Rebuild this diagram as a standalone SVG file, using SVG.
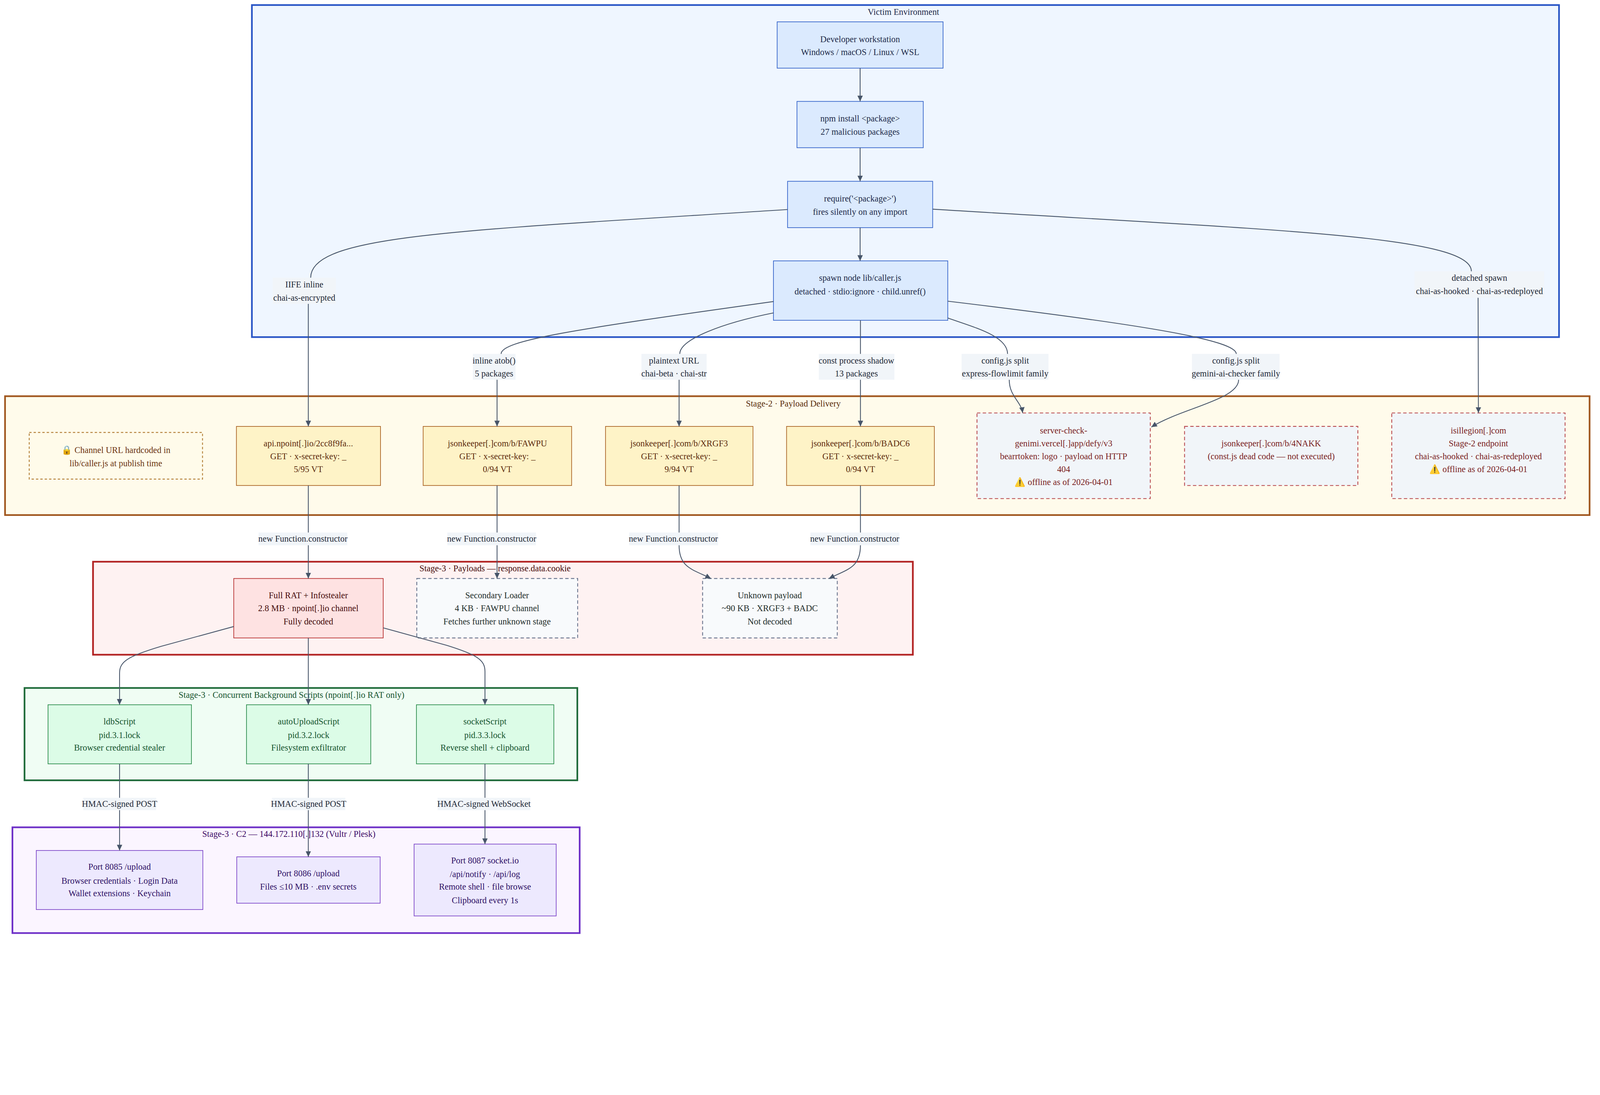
<svg xmlns="http://www.w3.org/2000/svg" width="4764" height="2804" viewBox="0 0 4764 2804" preserveAspectRatio="xMinYMin meet">
<defs>
<style>
svg:root{width:100vw;height:100vh}
text{font-family:"Liberation Serif","Times New Roman",serif;font-size:26px;text-anchor:middle;dominant-baseline:central}
.cl{stroke-width:5}
.victimC{fill:#eff6ff;stroke:#2a56c6}
.stage2C{fill:#fffbeb;stroke:#a0561e}
.stage3C{fill:#fef2f2;stroke:#b22222}
.bgC{fill:#f0fdf4;stroke:#1f6b3a}
.c2C{fill:#fbf5ff;stroke:#6d2fc7}
.vn{fill:#dbeafe;stroke:#3060c8;stroke-width:2}
.vt{fill:#1e2a4a}
.yn{fill:#fef3c7;stroke:#a86020;stroke-width:2}
.yt{fill:#5c2a0c}
.off{fill:#f1f5f9;stroke:#b8484e;stroke-width:2.5;stroke-dasharray:10 7}
.ot{fill:#7a1f1f}
.note{fill:#fffbea;stroke:#b07a30;stroke-width:2.5;stroke-dasharray:7 6}
.nt{fill:#6b3410}
.rn{fill:#fee2e2;stroke:#b52a2a;stroke-width:2}
.rt{fill:#450a0a}
.un{fill:#f8fafc;stroke:#64708a;stroke-width:2.5;stroke-dasharray:10 7}
.ut{fill:#1e2d2a}
.gn{fill:#dcfce7;stroke:#2a8a4a;stroke-width:2}
.gt{fill:#14532d}
.pn{fill:#ede9fe;stroke:#7c45c8;stroke-width:2}
.pt{fill:#2e1065}
.edge{fill:none;stroke:#475569;stroke-width:2.5}
.lb{fill:#f1f5f9}
.lt{fill:#1f2937}
</style>
<marker id="arr" markerUnits="userSpaceOnUse" markerWidth="18" markerHeight="18" refX="17" refY="8" orient="auto">
<path d="M0,0 L17,8 L0,16 z" fill="#475569"/>
</marker>
</defs>
<rect width="4764" height="2804" fill="#ffffff"/>

<g id="cluster-victim">
<rect class="cl victimC" x="750" y="15" width="3892" height="989"/>
<text x="2690" y="36" class="vt">Victim Environment</text>
</g>
<g id="cluster-stage2">
<rect class="cl stage2C" x="15" y="1180" width="4718" height="354"/>
<text x="2362" y="1202" fill="#5a2d0c">Stage-2 · Payload Delivery</text>
</g>
<g id="cluster-stage3">
<rect class="cl stage3C" x="277" y="1673" width="2441" height="277"/>
<text x="1474" y="1693" fill="#450a0a">Stage-3 · Payloads — response.data.cookie</text>
</g>
<g id="cluster-bg">
<rect class="cl bgC" x="73" y="2049" width="1646" height="275"/>
<text x="868" y="2070" fill="#14532d">Stage-3 · Concurrent Background Scripts (npoint[.]io RAT only)</text>
</g>
<g id="cluster-c2">
<rect class="cl c2C" x="37" y="2464" width="1689" height="315"/>
<text x="860" y="2484" fill="#3b0764">Stage-3 · C2 — 144.172.110[.]132 (Vultr / Plesk)</text>
</g>

<g id="node-dev">
<rect class="vn" x="2314" y="65" width="494" height="138"/>
<text x="2561" y="117" class="vt">Developer workstation</text>
<text x="2561" y="155" class="vt">Windows / macOS / Linux / WSL</text>
</g>
<g id="node-npm">
<rect class="vn" x="2373" y="302" width="376" height="138"/>
<text x="2561" y="353" class="vt">npm install &lt;package&gt;</text>
<text x="2561" y="393" class="vt">27 malicious packages</text>
</g>
<g id="node-require">
<rect class="vn" x="2345" y="540" width="432" height="138"/>
<text x="2561" y="591" class="vt">require('&lt;package&gt;')</text>
<text x="2561" y="631" class="vt">fires silently on any import</text>
</g>
<g id="node-spawn">
<rect class="vn" x="2303" y="777" width="519" height="177"/>
<text x="2561" y="828" class="vt">spawn node lib/caller.js</text>
<text x="2561" y="868" class="vt">detached · stdio:ignore · child.unref()</text>
</g>

<g id="node-note">
<rect class="note" x="87" y="1288" width="516" height="139"/>
<text x="345" y="1341" class="nt">🔒 Channel URL hardcoded in</text>
<text x="345" y="1380" class="nt">lib/caller.js at publish time</text>
</g>
<g id="node-npoint">
<rect class="yn" x="704" y="1270" width="429" height="176"/>
<text x="918" y="1321" class="yt">api.npoint[.]io/2cc8f9fa...</text>
<text x="918" y="1359" class="yt">GET · x-secret-key: _</text>
<text x="918" y="1397" class="yt">5/95 VT</text>
</g>
<g id="node-fawpu">
<rect class="yn" x="1260" y="1270" width="442" height="176"/>
<text x="1481" y="1321" class="yt">jsonkeeper[.]com/b/FAWPU</text>
<text x="1481" y="1359" class="yt">GET · x-secret-key: _</text>
<text x="1481" y="1397" class="yt">0/94 VT</text>
</g>
<g id="node-xrgf3">
<rect class="yn" x="1803" y="1270" width="439" height="176"/>
<text x="2022" y="1321" class="yt">jsonkeeper[.]com/b/XRGF3</text>
<text x="2022" y="1359" class="yt">GET · x-secret-key: _</text>
<text x="2022" y="1397" class="yt">9/94 VT</text>
</g>
<g id="node-badc6">
<rect class="yn" x="2342" y="1270" width="440" height="176"/>
<text x="2562" y="1321" class="yt">jsonkeeper[.]com/b/BADC6</text>
<text x="2562" y="1359" class="yt">GET · x-secret-key: _</text>
<text x="2562" y="1397" class="yt">0/94 VT</text>
</g>
<g id="node-servercheck">
<rect class="off" x="2909" y="1230" width="516" height="255"/>
<text x="3167" y="1282" class="ot">server-check-</text>
<text x="3167" y="1321" class="ot">genimi.vercel[.]app/defy/v3</text>
<text x="3167" y="1359" class="ot">bearrtoken: logo · payload on HTTP</text>
<text x="3167" y="1397" class="ot">404</text>
<text x="3167" y="1436" class="ot">⚠️ offline as of 2026-04-01</text>
</g>
<g id="node-4nakk">
<rect class="off" x="3527" y="1270" width="516" height="176"/>
<text x="3785" y="1321" class="ot">jsonkeeper[.]com/b/4NAKK</text>
<text x="3785" y="1359" class="ot">(const.js dead code — not executed)</text>
</g>
<g id="node-isillegion">
<rect class="off" x="4144" y="1230" width="516" height="255"/>
<text x="4402" y="1282" class="ot">isillegion[.]com</text>
<text x="4402" y="1321" class="ot">Stage-2 endpoint</text>
<text x="4402" y="1359" class="ot">chai-as-hooked · chai-as-redeployed</text>
<text x="4402" y="1397" class="ot">⚠️ offline as of 2026-04-01</text>
</g>

<g id="node-rat">
<rect class="rn" x="696" y="1723" width="445" height="177"/>
<text x="918" y="1773" class="rt">Full RAT + Infostealer</text>
<text x="918" y="1812" class="rt">2.8 MB · npoint[.]io channel</text>
<text x="918" y="1851" class="rt">Fully decoded</text>
</g>
<g id="node-loader">
<rect class="un" x="1241" y="1723" width="479" height="177"/>
<text x="1480" y="1773" class="ut">Secondary Loader</text>
<text x="1480" y="1812" class="ut">4 KB · FAWPU channel</text>
<text x="1480" y="1851" class="ut">Fetches further unknown stage</text>
</g>
<g id="node-unknown">
<rect class="un" x="2092" y="1723" width="401" height="177"/>
<text x="2292" y="1773" class="ut">Unknown payload</text>
<text x="2292" y="1812" class="ut">~90 KB · XRGF3 + BADC</text>
<text x="2292" y="1851" class="ut">Not decoded</text>
</g>

<g id="node-ldb">
<rect class="gn" x="143" y="2099" width="427" height="176"/>
<text x="356" y="2149" class="gt">ldbScript</text>
<text x="356" y="2189" class="gt">pid.3.1.lock</text>
<text x="356" y="2227" class="gt">Browser credential stealer</text>
</g>
<g id="node-autoupload">
<rect class="gn" x="734" y="2099" width="370" height="176"/>
<text x="919" y="2149" class="gt">autoUploadScript</text>
<text x="919" y="2189" class="gt">pid.3.2.lock</text>
<text x="919" y="2227" class="gt">Filesystem exfiltrator</text>
</g>
<g id="node-socket">
<rect class="gn" x="1240" y="2099" width="409" height="176"/>
<text x="1444" y="2149" class="gt">socketScript</text>
<text x="1444" y="2189" class="gt">pid.3.3.lock</text>
<text x="1444" y="2227" class="gt">Reverse shell + clipboard</text>
</g>

<g id="node-p8085">
<rect class="pn" x="108" y="2533" width="496" height="176"/>
<text x="356" y="2582" class="pt">Port 8085 /upload</text>
<text x="356" y="2623" class="pt">Browser credentials · Login Data</text>
<text x="356" y="2660" class="pt">Wallet extensions · Keychain</text>
</g>
<g id="node-p8086">
<rect class="pn" x="705" y="2552" width="427" height="138"/>
<text x="918" y="2601" class="pt">Port 8086 /upload</text>
<text x="918" y="2641" class="pt">Files ≤10 MB · .env secrets</text>
</g>
<g id="node-p8087">
<rect class="pn" x="1233" y="2514" width="423" height="214"/>
<text x="1444" y="2563" class="pt">Port 8087 socket.io</text>
<text x="1444" y="2603" class="pt">/api/notify · /api/log</text>
<text x="1444" y="2641" class="pt">Remote shell · file browse</text>
<text x="1444" y="2681" class="pt">Clipboard every 1s</text>
</g>

<g id="connectors">
<path class="edge" marker-end="url(#arr)" d="M2561,203 L2561,302"/>
<path class="edge" marker-end="url(#arr)" d="M2561,440 L2561,540"/>
<path class="edge" marker-end="url(#arr)" d="M2561,678 L2561,777"/>
<path class="edge" marker-end="url(#arr)" d="M2345,624 C1350,688 925,700 925,827 L918,905 L918,1270"/>
<path class="edge" marker-end="url(#arr)" d="M2777,623 C3774,685 4381,700 4381,808 L4401,887 L4402,1230"/>
<path class="edge" marker-end="url(#arr)" d="M2303,898 C1703,982 1492,1014 1492,1054 L1480,1131 L1480,1270"/>
<path class="edge" marker-end="url(#arr)" d="M2303,932 C2153,962 2024,1010 2024,1054 L2022,1131 L2022,1270"/>
<path class="edge" marker-end="url(#arr)" d="M2562,954 L2562,1270"/>
<path class="edge" marker-end="url(#arr)" d="M2822,947 C2900,975 3000,1000 3000,1054 L3005,1131 C3005,1180 3040,1195 3045,1230"/>
<path class="edge" marker-end="url(#arr)" d="M2822,897 C3422,969 3681,1014 3681,1054 L3688,1131 C3688,1190 3520,1215 3428,1272"/>
<path class="edge" marker-end="url(#arr)" d="M918,1446 L918,1723"/>
<path class="edge" marker-end="url(#arr)" d="M1480,1446 L1480,1723"/>
<path class="edge" marker-end="url(#arr)" d="M2022,1446 L2022,1624 C2022,1690 2060,1695 2117,1723"/>
<path class="edge" marker-end="url(#arr)" d="M2562,1446 L2562,1624 C2562,1690 2525,1695 2468,1723"/>
<path class="edge" marker-end="url(#arr)" d="M918,1900 L918,2099"/>
<path class="edge" marker-end="url(#arr)" d="M696,1866 L480,1925 C380,1955 356,1970 356,2005 L356,2099"/>
<path class="edge" marker-end="url(#arr)" d="M1141,1870 L1330,1922 C1420,1950 1444,1965 1444,2000 L1444,2099"/>
<path class="edge" marker-end="url(#arr)" d="M356,2275 L356,2533"/>
<path class="edge" marker-end="url(#arr)" d="M918,2275 L918,2552"/>
<path class="edge" marker-end="url(#arr)" d="M1444,2275 L1444,2514"/>
</g>

<g id="edge-labels">
<rect class="lb" x="812" y="827" width="188" height="78"/>
<text x="906" y="847" class="lt">IIFE inline</text>
<text x="906" y="887" class="lt">chai-as-encrypted</text>
<rect class="lb" x="4212" y="808" width="386" height="79"/>
<text x="4405" y="828" class="lt">detached spawn</text>
<text x="4405" y="867" class="lt">chai-as-hooked · chai-as-redeployed</text>
<rect class="lb" x="1408" y="1054" width="127" height="77"/>
<text x="1471" y="1074" class="lt">inline atob()</text>
<text x="1471" y="1113" class="lt">5 packages</text>
<rect class="lb" x="1910" y="1054" width="194" height="77"/>
<text x="2007" y="1074" class="lt">plaintext URL</text>
<text x="2007" y="1113" class="lt">chai-beta · chai-str</text>
<rect class="lb" x="2438" y="1054" width="225" height="77"/>
<text x="2550" y="1074" class="lt">const process shadow</text>
<text x="2550" y="1113" class="lt">13 packages</text>
<rect class="lb" x="2863" y="1054" width="259" height="77"/>
<text x="2993" y="1074" class="lt">config.js split</text>
<text x="2993" y="1113" class="lt">express-flowlimit family</text>
<rect class="lb" x="3549" y="1054" width="261" height="77"/>
<text x="3680" y="1074" class="lt">config.js split</text>
<text x="3680" y="1113" class="lt">gemini-ai-checker family</text>
<rect class="lb" x="770" y="1586" width="264" height="38"/>
<text x="902" y="1605" class="lt">new Function.constructor</text>
<rect class="lb" x="1332" y="1586" width="264" height="38"/>
<text x="1464" y="1605" class="lt">new Function.constructor</text>
<rect class="lb" x="1873" y="1586" width="265" height="38"/>
<text x="2005" y="1605" class="lt">new Function.constructor</text>
<rect class="lb" x="2413" y="1586" width="265" height="38"/>
<text x="2545" y="1605" class="lt">new Function.constructor</text>
<rect class="lb" x="248" y="2376" width="217" height="37"/>
<text x="356" y="2394" class="lt">HMAC-signed POST</text>
<rect class="lb" x="810" y="2376" width="218" height="37"/>
<text x="919" y="2394" class="lt">HMAC-signed POST</text>
<rect class="lb" x="1303" y="2376" width="276" height="37"/>
<text x="1441" y="2394" class="lt">HMAC-signed WebSocket</text>
</g>
</svg>
